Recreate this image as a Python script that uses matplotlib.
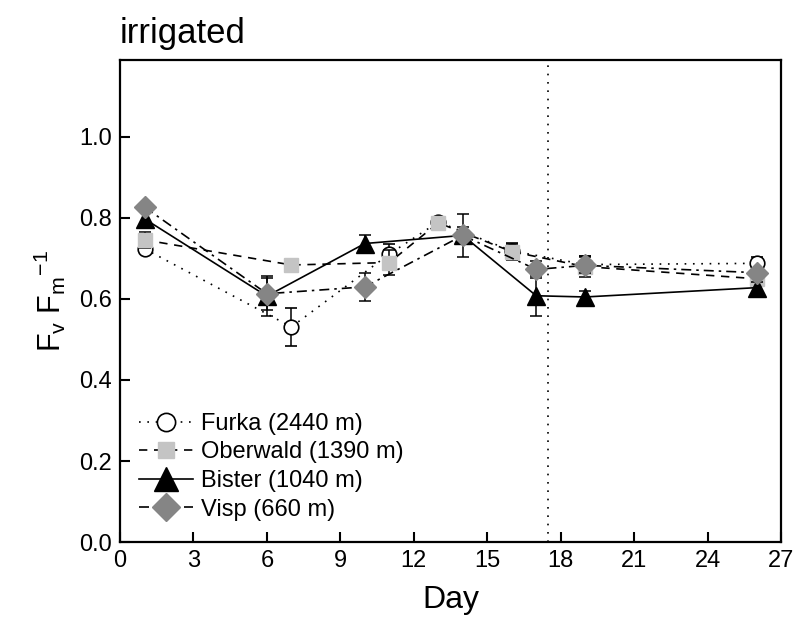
import matplotlib
matplotlib.use("Agg")
import matplotlib.pyplot as plt
from matplotlib.lines import Line2D

plt.rcParams['font.family'] = ['Liberation Sans', 'DejaVu Sans']
plt.rcParams['mathtext.fontset'] = 'custom'
plt.rcParams['mathtext.rm'] = 'Liberation Sans'

# Fv/Fm measurements per site (irrigated plots)
furka_days = [1, 7, 11, 13, 16, 19, 26]
furka_vals = [0.724, 0.531, 0.711, 0.790, 0.719, 0.685, 0.688]
furka_err = [0.010, 0.048, 0.025, 0.012, 0.020, 0.020, 0.015]

oberwald_days = [1, 7, 11, 13, 16, 19, 26]
oberwald_vals = [0.746, 0.684, 0.690, 0.788, 0.717, 0.680, 0.650]
oberwald_err = [0.020, 0.015, 0.030, 0.015, 0.020, 0.025, 0.015]

bister_days = [1, 6, 10, 14, 17, 19, 26]
bister_vals = [0.798, 0.607, 0.737, 0.757, 0.608, 0.605, 0.628]
bister_err = [0.020, 0.050, 0.020, 0.020, 0.050, 0.015, 0.015]

visp_days = [1, 6, 10, 14, 17, 19, 26]
visp_vals = [0.827, 0.613, 0.630, 0.757, 0.673, 0.683, 0.665]
visp_err = [0.010, 0.040, 0.035, 0.054, 0.020, 0.020, 0.010]

labels = ['Furka (2440 m)', 'Oberwald (1390 m)', 'Bister (1040 m)', 'Visp (660 m)']
event_day = 17.5

# line / marker styles per site
styles = [
    dict(ls=(0, (1, 4)), marker='o', ms=10.5, mfc='white', mec='black', mew=1.2),
    dict(ls=(0, (5, 4)), marker='s', ms=9.5, mfc='#c4c4c4', mec='#c4c4c4'),
    dict(ls='-', marker='^', ms=13.5, mfc='black', mec='black'),
    dict(ls=(0, (6, 3, 1.5, 3)), marker='D', ms=11, mfc='#858585', mec='#858585'),
]

fig = plt.figure(figsize=(7.97, 6.32), dpi=100)
ax = fig.add_axes([0.1506, 0.1424, 0.8294, 0.7626])

series = [(furka_days, furka_vals, furka_err),
          (oberwald_days, oberwald_vals, oberwald_err),
          (bister_days, bister_vals, bister_err),
          (visp_days, visp_vals, visp_err)]

for i, ((d, v, e), st) in enumerate(zip(series, styles)):
    ax.errorbar(d, v, yerr=e, color='black', lw=1.2, capsize=4, elinewidth=1.1,
                capthick=1.1, ecolor='black', zorder=3 + i, **st)

ax.axvline(event_day, color='black', ls=(0, (1, 4)), lw=1.2, zorder=1)

ax.set_xlim(0, 27)
ax.set_ylim(0, 1.19)
ax.set_xticks(range(0, 28, 3))
ax.set_yticks([0.0, 0.2, 0.4, 0.6, 0.8, 1.0])
ax.set_yticklabels(['0.0', '0.2', '0.4', '0.6', '0.8', '1.0'])
ax.tick_params(direction='in', length=7, width=1.5, labelsize=17, pad=6)
for sp in ax.spines.values():
    sp.set_linewidth(1.6)

ax.set_xlabel('Day', fontsize=23, labelpad=9)
ax.set_ylabel(r'F$_\mathregular{v}$ F$_\mathregular{m}$$^\mathregular{-1}$', fontsize=22, labelpad=8)
ax.set_title('irrigated', fontsize=25, loc='left', pad=12)

handles = [Line2D([], [], color='black', lw=1.2, **st) for st in styles]
ax.legend(handles, labels, loc='lower left', frameon=False, fontsize=17,
          handlelength=2.3, handletextpad=0.35, labelspacing=0.28,
          markerscale=1.25, borderaxespad=0.4, bbox_to_anchor=(0.0, 0.005))

fig.savefig('out.png', dpi=100)
